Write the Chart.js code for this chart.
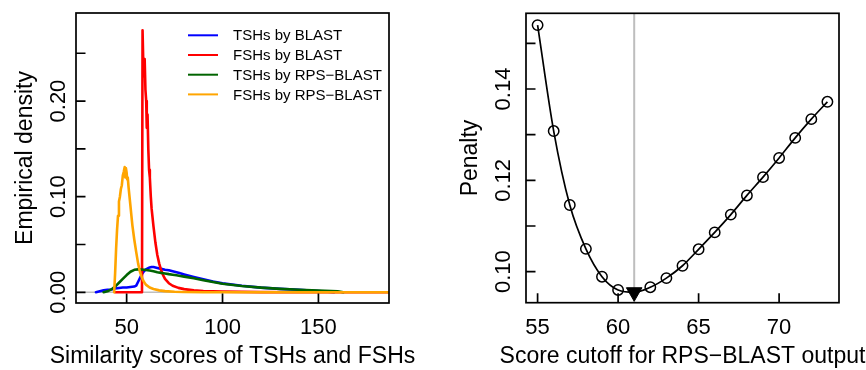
<!DOCTYPE html>
<html>
<head>
<meta charset="utf-8">
<script src="https://cdn.jsdelivr.net/npm/chart.js@4.4.1/dist/chart.umd.min.js"></script>
<style>
  html, body { margin: 0; padding: 0; background: #fff; }
  #wrap { position: relative; width: 866px; height: 370px; overflow: hidden; }
  canvas { position: absolute; top: 0; }
  #densityChart { left: 0; }
  #penaltyChart { left: 433px; }
</style>
</head>
<body>
<div id="wrap">
  <canvas id="densityChart" width="433" height="370"></canvas>
  <canvas id="penaltyChart" width="433" height="370"></canvas>
</div>
<script>
// Left panel: empirical densities of similarity scores
const seriesLabels = ['TSHs by BLAST', 'FSHs by BLAST', 'TSHs by RPS\u2212BLAST', 'FSHs by RPS\u2212BLAST'];
const seriesColors = ['#0000FF', '#FF0000', '#006400', '#FFA500'];

const blueX = [34, 36, 38, 40, 42, 44, 46, 48, 50, 52, 54, 55, 56, 57, 58, 59, 60, 61, 62, 63, 64, 65, 66, 68, 70, 72, 74, 76, 78, 80, 85, 90, 95, 100, 110, 120, 130, 140, 150, 158];
const blueY = [0, 0.001, 0.002, 0.0025, 0.003, 0.004, 0.0045, 0.005, 0.005, 0.0055, 0.006, 0.007, 0.011, 0.015, 0.019, 0.022, 0.024, 0.025, 0.026, 0.0265, 0.0265, 0.026, 0.0255, 0.0245, 0.0235, 0.023, 0.022, 0.021, 0.0198, 0.0187, 0.016, 0.0135, 0.0112, 0.0093, 0.0068, 0.0049, 0.0036, 0.0026, 0.0014, 0];

const redX = [44, 58, 58.3, 58.7, 59.1, 59.4, 59.8, 60.2, 60.5, 60.9, 61.3, 61.7, 62.1, 62.6, 63, 64, 65, 66, 67, 68, 69, 70, 72, 74, 77, 80, 85, 90, 100, 110, 120, 140, 200];
const redY = [0, 0, 0.274, 0.238, 0.226, 0.244, 0.212, 0.2, 0.172, 0.186, 0.15, 0.128, 0.12, 0.1, 0.088, 0.069, 0.052, 0.039, 0.03, 0.023, 0.018, 0.014, 0.0095, 0.0068, 0.0046, 0.0033, 0.002, 0.0013, 0.0007, 0.0004, 0.0002, 0.0001, 0];

const greenX = [38, 40, 42, 44, 46, 48, 50, 52, 54, 56, 58, 60, 62, 64, 66, 68, 70, 72, 74, 76, 78, 80, 85, 90, 95, 100, 110, 120, 130, 140, 150, 160, 163];
const greenY = [0, 0.001, 0.003, 0.006, 0.010, 0.014, 0.018, 0.0215, 0.0235, 0.024, 0.0238, 0.0233, 0.0227, 0.022, 0.021, 0.0203, 0.0197, 0.019, 0.0184, 0.0178, 0.0171, 0.0164, 0.0146, 0.0126, 0.0107, 0.009, 0.0066, 0.0049, 0.0036, 0.0027, 0.0019, 0.001, 0];

const orangeX = [43.5, 44, 44.5, 45, 45.5, 46, 46.5, 47, 47.5, 48, 48.5, 49, 49.3, 49.6, 50, 50.3, 50.6, 51, 51.5, 52, 52.5, 53, 54, 55, 56, 57, 58, 59, 60, 62, 64, 67, 70, 75, 80, 90, 200];
const orangeY = [0, 0.02, 0.045, 0.065, 0.08, 0.095, 0.1, 0.108, 0.112, 0.122, 0.126, 0.131, 0.12, 0.13, 0.125, 0.118, 0.12, 0.11, 0.1, 0.09, 0.08, 0.07, 0.055, 0.042, 0.03, 0.021, 0.015, 0.011, 0.008, 0.005, 0.0035, 0.002, 0.0012, 0.0006, 0.0003, 0.0001, 0];

const densityXTicks = [50, 100, 150];
const densityXTickLabels = ['50', '100', '150'];
const densityYTicks = [0, 0.05, 0.10, 0.15, 0.20, 0.25];
const densityYTickLabels = ['0.00', '', '0.10', '', '0.20', ''];

// Right panel: penalty vs score cutoff
const cutoffs = [55, 56, 57, 58, 59, 60, 61, 62, 63, 64, 65, 66, 67, 68, 69, 70, 71, 72, 73];
const penalty = [0.1540, 0.1308, 0.1146, 0.1050, 0.0989, 0.0960, 0.0955, 0.0966, 0.0986, 0.1013, 0.1049, 0.1086, 0.1125, 0.1167, 0.1207, 0.1249, 0.1293, 0.1334, 0.1372];

const penaltyXTicks = [55, 60, 65, 70];
const penaltyXTickLabels = ['55', '60', '65', '70'];
const penaltyYTicks = [0.10, 0.11, 0.12, 0.13, 0.14, 0.15];
const penaltyYTickLabels = ['0.10', '', '0.12', '', '0.14', ''];

const FONT = '"Liberation Sans", Arial, Helvetica, sans-serif';

function toPoints(xs, ys) {
    return xs.map((x, i) => ({ x: x, y: ys[i] }));
}

// Draws an R-style frame: box, inward ticks, rotated y labels, titles
function makeFrame(cfg) {
    return {
        id: 'rFrame',
        beforeDatasetsDraw(chart) {
            const { ctx, chartArea: a, scales: { x, y } } = chart;
            ctx.save();
            ctx.strokeStyle = '#BEBEBE';
            ctx.lineWidth = cfg.refWidth || 1;
            ctx.beginPath();
            if (cfg.hLine !== undefined) {
                const py = y.getPixelForValue(cfg.hLine);
                ctx.moveTo(a.left, py);
                ctx.lineTo(a.right, py);
            }
            if (cfg.vLine !== undefined) {
                const px = x.getPixelForValue(cfg.vLine);
                ctx.moveTo(px, a.top);
                ctx.lineTo(px, a.bottom);
            }
            ctx.stroke();
            ctx.restore();
        },
        afterDraw(chart) {
            const { ctx, chartArea: a, scales: { x, y } } = chart;
            ctx.save();
            ctx.strokeStyle = '#000';
            ctx.fillStyle = '#000';
            ctx.lineWidth = 1.7;
            ctx.strokeRect(a.left, a.top, a.right - a.left, a.bottom - a.top);

            // ticks point inward
            ctx.beginPath();
            cfg.xTicks.forEach(v => {
                const px = x.getPixelForValue(v);
                ctx.moveTo(px, a.bottom);
                ctx.lineTo(px, a.bottom - 9.5);
            });
            cfg.yTicks.forEach(v => {
                const py = y.getPixelForValue(v);
                ctx.moveTo(a.left, py);
                ctx.lineTo(a.left + 9.5, py);
            });
            ctx.stroke();

            ctx.font = '22px ' + FONT;
            ctx.textAlign = 'center';
            ctx.textBaseline = 'alphabetic';
            cfg.xTicks.forEach((v, i) => {
                ctx.fillText(cfg.xLabels[i], x.getPixelForValue(v), a.bottom + 31);
            });
            cfg.yTicks.forEach((v, i) => {
                if (!cfg.yLabels[i]) return;
                ctx.save();
                ctx.translate(a.left - cfg.yLabelGap, y.getPixelForValue(v));
                ctx.rotate(-Math.PI / 2);
                ctx.fillText(cfg.yLabels[i], 0, 0);
                ctx.restore();
            });

            ctx.font = '23px ' + FONT;
            ctx.fillText(cfg.xTitle, (a.left + a.right) / 2, a.bottom + 60);
            ctx.save();
            ctx.translate(a.left - cfg.yTitleGap, (a.top + a.bottom) / 2);
            ctx.rotate(-Math.PI / 2);
            ctx.fillText(cfg.yTitle, 0, 0);
            ctx.restore();

            // legend inside the plot, no box
            if (cfg.legend) {
                ctx.font = '15px ' + FONT;
                ctx.textAlign = 'left';
                ctx.textBaseline = 'middle';
                ctx.lineWidth = 2;
                chart.data.datasets.forEach((ds, i) => {
                    const ly = a.top + 22.3 + i * 19.7;
                    ctx.strokeStyle = ds.borderColor;
                    ctx.beginPath();
                    ctx.moveTo(a.left + 112, ly);
                    ctx.lineTo(a.left + 142, ly);
                    ctx.stroke();
                    ctx.fillStyle = '#000';
                    ctx.fillText(ds.label, a.left + 157, ly + 1);
                });
            }
            ctx.restore();
        }
    };
}

const densityData = [[blueX, blueY], [redX, redY], [greenX, greenY], [orangeX, orangeY]];
const drawOrder = [4, 3, 2, 1];

new Chart(document.getElementById('densityChart'), {
    type: 'line',
    data: {
        datasets: densityData.map((d, i) => ({
            label: seriesLabels[i],
            data: toPoints(d[0], d[1]),
            borderColor: seriesColors[i],
            borderWidth: 2.6,
            pointRadius: 0,
            tension: 0,
            fill: false,
            borderJoinStyle: 'round',
            borderCapStyle: 'round',
            order: drawOrder[i]
        }))
    },
    options: {
        responsive: false,
        animation: false,
        layout: { padding: { left: 76, right: 44, top: 13, bottom: 67 } },
        scales: {
            x: { type: 'linear', display: false, min: 23.6, max: 186.8 },
            y: { type: 'linear', display: false, min: -0.0112, max: 0.2921 }
        },
        plugins: { legend: { display: false }, tooltip: { enabled: false } }
    },
    plugins: [makeFrame({
        xTicks: densityXTicks, xLabels: densityXTickLabels,
        yTicks: densityYTicks, yLabels: densityYTickLabels,
        xTitle: 'Similarity scores of TSHs and FSHs',
        yTitle: 'Empirical density',
        yLabelGap: 11, yTitleGap: 44,
        hLine: 0, refWidth: 1.5, legend: true
    })]
});

// best cutoff = minimum penalty
const bestIndex = penalty.indexOf(Math.min(...penalty));

new Chart(document.getElementById('penaltyChart'), {
    type: 'line',
    data: {
        datasets: [{
            label: 'Best cutoff',
            data: [{ x: cutoffs[bestIndex], y: penalty[bestIndex] }],
            showLine: false,
            pointStyle: 'triangle',
            rotation: 180,
            pointRadius: 9,
            pointBackgroundColor: '#000',
            pointBorderColor: '#000',
            pointBorderWidth: 1,
            order: 1
        }, {
            label: 'Penalty',
            data: toPoints(cutoffs, penalty),
            borderColor: '#000',
            borderWidth: 1.7,
            cubicInterpolationMode: 'monotone',
            pointStyle: 'circle',
            pointRadius: ctx => ctx.dataIndex === bestIndex ? 0 : 5.2,
            pointBorderColor: '#000',
            pointBackgroundColor: 'rgba(0,0,0,0)',
            pointBorderWidth: 1.5,
            fill: false,
            order: 2
        }]
    },
    options: {
        responsive: false,
        animation: false,
        layout: { padding: { left: 93, right: 27, top: 13.3, bottom: 67.3 } },
        scales: {
            x: { type: 'linear', display: false, min: 54.28, max: 73.72 },
            y: { type: 'linear', display: false, min: 0.09321, max: 0.15658 }
        },
        plugins: { legend: { display: false }, tooltip: { enabled: false } }
    },
    plugins: [makeFrame({
        xTicks: penaltyXTicks, xLabels: penaltyXTickLabels,
        yTicks: penaltyYTicks, yLabels: penaltyYTickLabels,
        xTitle: 'Score cutoff for RPS\u2212BLAST output',
        yTitle: 'Penalty',
        yLabelGap: 16, yTitleGap: 49,
        vLine: cutoffs[bestIndex], refWidth: 2, legend: false
    })]
});
</script>
</body>
</html>
